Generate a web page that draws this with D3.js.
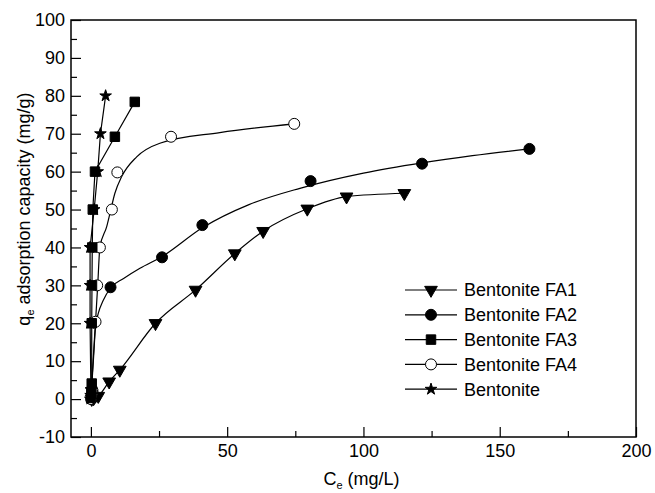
<!DOCTYPE html>
<html>
<head>
<meta charset="utf-8">
<script src="https://cdn.jsdelivr.net/npm/d3@7"></script>
<style>
  html, body { margin: 0; padding: 0; background: #fff; }
  svg { display: block; }
  text { font-family: "Liberation Sans", Arial, Helvetica, sans-serif; fill: #000; }
</style>
</head>
<body>
<svg id="chart" width="655" height="493"></svg>
<script>
// ---------- data ----------
const seriesNames = ["Bentonite FA1", "Bentonite FA2", "Bentonite FA3", "Bentonite FA4", "Bentonite"];

const fa1Points = [[0.3,0],[1.0,0.2],[2.7,0.8],[6.7,4.6],[10.6,7.7],[23.7,20],[38.4,28.8],[52.8,38.4],[63.2,44.3],[79.4,50.2],[93.8,53.4],[115,54.3]];
const fa2Points = [[0.2,0],[0.4,1],[0.6,2],[7.2,29.5],[26.1,37.4],[40.9,45.9],[80.6,57.5],[121.5,62.1],[160.9,66.0]];
const fa3Points = [[0.1,0.3],[0.2,1.9],[0.3,4.1],[0.3,20],[0.4,30],[0.5,40],[0.7,50],[1.5,60],[8.8,69.2],[16.1,78.4]];
const fa4Points = [[0.1,0],[0.3,1.2],[0.5,2.5],[1.7,20.4],[2.3,30],[3.3,40],[7.7,50],[9.7,59.8],[29.4,69.2],[74.6,72.6]];
const bentPoints = [[-0.2,0],[-0.1,1],[0.0,2.5],[-0.3,20],[-0.3,30],[-0.3,40],[1.2,50],[2.5,60],[3.5,70],[5.4,80]];

// fitted curves (FA2, FA4)
const fa2Curve = [[0,0],[0.9,10],[1.7,19],[2.7,22.6],[4.5,26],[7.2,29.3],[12,31.8],[18,34.5],[25.9,37.5],[40.9,45.2],[58,51.3],[76.7,55.6],[100,59.6],[121.5,62.3],[140,64.2],[160.9,66]];
const fa4Curve = [[0,0],[0.8,10],[1.7,20.4],[2.5,30],[3.3,40],[5.8,45.5],[7,49],[8.8,54.3],[11.3,58.7],[16.8,63.9],[25.3,67.5],[47.3,70.3],[74.6,72.6]];

const xMajorTicks = [0, 50, 100, 150, 200];
const xMinorTicks = [25, 75, 125, 175];
const yMajorTicks = [-10, 0, 10, 20, 30, 40, 50, 60, 70, 80, 90, 100];
const yMinorTicks = [-5, 5, 15, 25, 35, 45, 55, 65, 75, 85, 95];

const xTitle = "C";
const xTitleSub = "e";
const xTitleRest = " (mg/L)";
const yTitle = "q";
const yTitleSub = "e";
const yTitleRest = " adsorption capacity (mg/g)";

// ---------- layout ----------
const L = 71, R = 636, T = 20, B = 437;
const svg = d3.select("#chart");

const x = d3.scaleLinear().domain([-7.3, 200]).range([L, R]);
const y = d3.scaleLinear().domain([-10, 100]).range([B, T]);

const fontSize = 18;

// axes
const gx = svg.append("g").attr("transform", `translate(0,${B})`)
  .call(d3.axisBottom(x).tickValues(xMajorTicks).tickSize(-10).tickPadding(7).tickFormat(d3.format("d")));
const gxm = svg.append("g").attr("transform", `translate(0,${B})`)
  .call(d3.axisBottom(x).tickValues(xMinorTicks).tickSize(-6).tickFormat(""));
const gy = svg.append("g").attr("transform", `translate(${L},0)`)
  .call(d3.axisLeft(y).tickValues(yMajorTicks).tickSize(-10).tickPadding(6).tickFormat(d => d < 0 ? "-" + Math.abs(d) : String(d)));
const gym = svg.append("g").attr("transform", `translate(${L},0)`)
  .call(d3.axisLeft(y).tickValues(yMinorTicks).tickSize(-6).tickFormat(""));

[gx, gxm, gy, gym].forEach(g => {
  g.select(".domain").remove();
  g.selectAll(".tick line").attr("stroke", "#000").attr("stroke-width", 1.2);
  g.selectAll(".tick text").style("font-size", fontSize + "px").attr("fill", "#000");
});
gx.selectAll(".tick text").attr("dy", "0.71em");

// frame
svg.append("rect").attr("x", L).attr("y", T).attr("width", R - L).attr("height", B - T)
  .attr("fill", "none").attr("stroke", "#000").attr("stroke-width", 1.5);

// titles
const xt = svg.append("text").attr("x", (L + R) / 2 + 8).attr("y", 485).attr("text-anchor", "middle")
  .style("font-size", fontSize + "px");
xt.append("tspan").text(xTitle);
xt.append("tspan").text(xTitleSub).style("font-size", "11px").attr("dy", 4);
xt.append("tspan").text(xTitleRest).attr("dy", -4);

const yt = svg.append("text").attr("transform", `translate(30,${209}) rotate(-90)`).attr("text-anchor", "middle")
  .style("font-size", fontSize + "px");
yt.append("tspan").text(yTitle);
yt.append("tspan").text(yTitleSub).style("font-size", "11px").attr("dy", 4);
yt.append("tspan").text(yTitleRest).attr("dy", -4);

// clip
svg.append("clipPath").attr("id", "plotclip").append("rect")
  .attr("x", L).attr("y", T).attr("width", R - L).attr("height", B - T);
const plot = svg.append("g").attr("clip-path", "url(#plotclip)");

const lineLinear = d3.line().x(d => x(d[0])).y(d => y(d[1]));
const lineSmooth = d3.line().x(d => x(d[0])).y(d => y(d[1])).curve(d3.curveMonotoneX);

function drawLine(data, gen) {
  plot.append("path").attr("d", gen(data)).attr("fill", "none")
    .attr("stroke", "#000").attr("stroke-width", 1.2);
}

// markers
const markerDefs = {
  tri:    { type: d3.symbolTriangle, size: 70, rot: 180, fill: "#000" },
  circle: { type: d3.symbolCircle, size: 95, rot: 0, fill: "#000" },
  square: { type: d3.symbolSquare, size: 90, rot: 0, fill: "#000" },
  open:   { type: d3.symbolCircle, size: 95, rot: 0, fill: "#fff" },
  star:   { type: d3.symbolStar, size: 42, rot: 0, fill: "#000" }
};
function drawMarkers(g, data, key) {
  const m = markerDefs[key];
  g.selectAll(null).data(data).enter().append("path")
    .attr("d", d3.symbol().type(m.type).size(m.size)())
    .attr("transform", d => `translate(${x(d[0])},${y(d[1])}) rotate(${m.rot})`)
    .attr("fill", m.fill).attr("stroke", "#000").attr("stroke-width", 1);
}

// lines
drawLine(fa1Points.filter((d, i, a) => i === 0 || d[0] > a[i - 1][0]), lineSmooth);
drawLine(fa2Curve, lineSmooth);
drawLine(fa4Curve, lineSmooth);
drawLine(fa3Points, lineLinear);
drawLine(bentPoints, lineLinear);

// points
drawMarkers(plot, fa1Points, "tri");
drawMarkers(plot, fa2Points, "circle");
drawMarkers(plot, fa4Points, "open");
drawMarkers(plot, fa3Points, "square");
drawMarkers(plot, bentPoints, "star");

// legend
const legendKeys = ["tri", "circle", "square", "open", "star"];
const lg = svg.append("g");
seriesNames.forEach((name, i) => {
  const ly = 290 + i * 24.8;
  lg.append("line").attr("x1", 405).attr("x2", 457).attr("y1", ly).attr("y2", ly)
    .attr("stroke", "#000").attr("stroke-width", 1.2);
  const m = markerDefs[legendKeys[i]];
  lg.append("path").attr("d", d3.symbol().type(m.type).size(m.size)())
    .attr("transform", `translate(431,${ly}) rotate(${m.rot})`)
    .attr("fill", m.fill).attr("stroke", "#000").attr("stroke-width", 1);
  lg.append("text").attr("x", 464).attr("y", ly).attr("dy", "0.35em")
    .style("font-size", fontSize + "px").text(name);
});
</script>
</body>
</html>
